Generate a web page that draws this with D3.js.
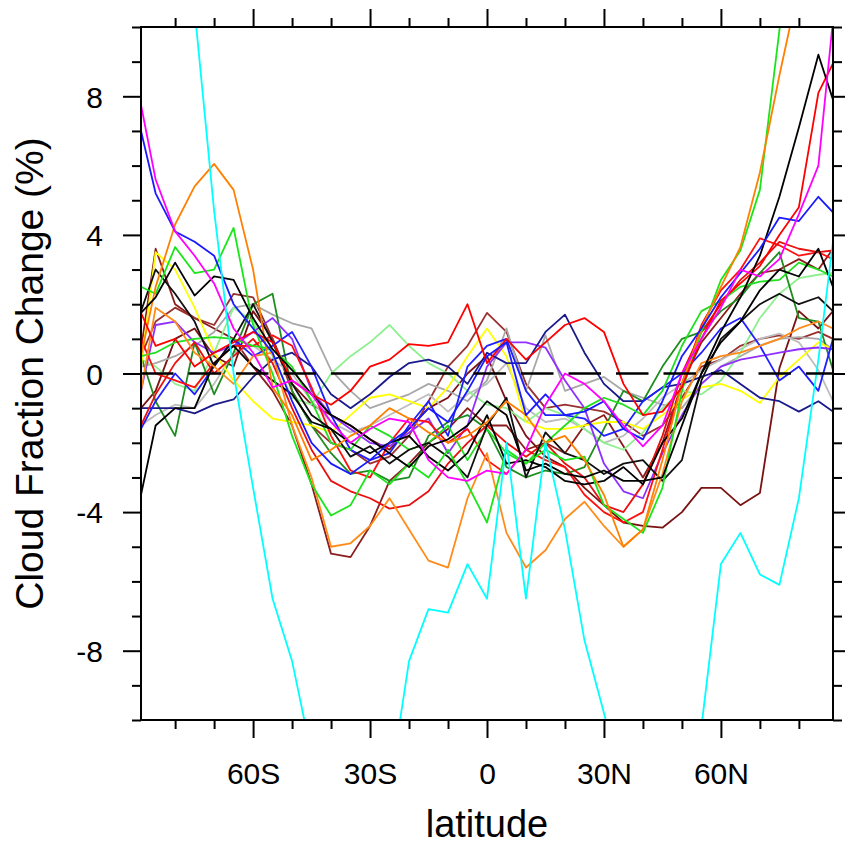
<!DOCTYPE html>
<html>
<head>
<meta charset="utf-8">
<script src="https://cdn.jsdelivr.net/npm/d3@7"></script>
<style>
  body { margin: 0; background: #fff; }
  text { font-family: "Liberation Sans", Arial, Helvetica, sans-serif; }
</style>
</head>
<body>
<svg id="chart" width="845" height="847"></svg>
<script>
// latitude grid (deg), SH negative
const lats = [-88.75, -85, -80, -75, -70, -65, -60, -55, -50, -45, -40, -35, -30,
  -25, -20, -15, -10, -5, 0, 5, 10, 15, 20, 25,
  30, 35, 40, 45, 50, 55, 60, 65, 70, 75, 80, 85, 88.75];

// cloud fraction change (%) per model
const brown1 = [0.7, 3.6, 2.0, 1.6, 1.3, 1.0, 0.2,  -0.5, -1.5, -3.2, -5.2, -5.3, -4.4,
  -3.1, -2.6, -2.0, -1.6, -1.0, -1.5, -1.5, -2.2, -2.0, -2.3, -1.5,
  -1.2, -2.1, -3.0, -2.0, -0.3, 0.9,  1.6, 2.3, 2.9, 3.0, 3.3, 3.0, 3.6];
const brown2 = [-1.0, -0.5, 1.0, 1.3, 0.5, 0.2, 1.8,  1.0, -0.3, -0.9, -1.2, -1.5, -1.9,
  -2.2, -1.6, -1.0, -0.7, 0.0, 0.5, -0.8, -1.8, -2.4, -2.7, -3.3,
  -3.8, -4.3, -4.4, -4.45, -4.0, -3.3,  -3.3, -3.8, -3.45, 0.15, 1.8, 1.3, 1.8];
const brown3 = [0.5, 1.5, 1.9, 1.6, 1.4, 2.3, 2.2,  1.0, -0.5, -1.5, -2.0, -2.2, -2.6,
  -2.4, -1.8, -0.8, 0.2, 0.8, 1.75, 1.2, -0.3, -1.0, -0.9, -1.0,
  -1.1, -1.4, -1.8, -1.5, -0.7, 0.2,  0.4, 0.8, 1.0, 1.1, 1.0, 1.2, 1.0];
const gray1 = [0.2, 0.3, 0.5, 0.8, 1.2, 1.9, 2.0,  1.7, 1.45, 1.3, 0.1, -0.5, -1.0,
  -0.8, -0.6, -0.3, -0.5, -0.8, -0.2, 1.3, -0.5, 1.1, -0.5, -0.3,
  -0.1, -0.5, -0.7, -0.9, -1.0, -0.3,  0.2, 0.5, 0.8, 1.0, 1.05, 1.0, 0.7];
const gray2 = [-1.5, -1.2, -0.9, -1.0, -0.3, 0.6, 0.8,  0.4, 0.0, -0.8, -1.4, -1.7, -1.5,
  -1.2, -0.9, -0.6, -1.1, -0.6, -0.3, 0.3, -1.0, -1.4, -1.3, -1.6,
  -2.0, -1.8, -1.3, -0.7, -0.3, 0.1,  0.4, 0.7, 1.0, 1.15, 0.9, 0.1, -0.8];
const lightgreen = [0.4, 0.2, -0.3, -0.5, 0.6, 1.9, 1.5,  0.5, -0.7, -0.9, 0.0, 0.5, 0.9,
  1.4, 0.8, 0.3, 0.0, -0.5, -0.9, -1.0, -1.4, -1.0, -1.2, -1.6,
  -2.0, -2.2, -1.7, -1.0, -0.5, -0.6,  -0.2, 0.6, 1.6, 2.3, 2.75, 2.85, 2.9];
const darkgreen = [0.5, -0.8, -1.8, 0.9, -0.6, 0.6, 2.0,  2.3, -0.5, -1.5, -2.3, -2.9, -2.8,
  -3.1, -3.0, -1.8, -1.4, -1.2, -1.6, -2.7, -3.0, -2.8, -2.9, -2.7,
  -1.6, -0.5, -0.8, 0.2, 1.0, 1.2,  1.8, 2.2, 2.9, 3.5, 1.6, 1.5, 0.1];
const yellow = [0.2, 3.5, 3.0, 1.9, 0.6, -0.2, -0.8,  -1.3, -1.4, -1.5, -1.7, -1.2, -0.7,
  -0.6, -0.8, -1.0, -0.4, 0.5, 1.3, 0.5, -1.4, -1.6, -1.6, -1.5,
  -1.4, -1.4, -1.6, -1.2, -0.75, -0.4,  -0.3, -0.5, -0.85, -0.1, 0.4, 0.9, 0.7];
const purple = [-0.5, 1.4, 1.5, 0.9, 0.6, 0.8, 1.2,  1.6, 1.0, -0.5, -1.2, -1.6, -2.0,
  -2.1, -1.7, -1.3, -2.3, -1.5, 0.2, 0.9, 0.9, 0.75, -0.2, -1.0,
  -2.6, -3.4, -3.6, -2.3, -1.2, -0.3,  0.2, 0.4, 0.5, 0.6, 0.7, 0.75, 0.7];
const navy = [-1.0, -1.0, -1.0, -1.15, -0.9, -0.75, -0.1,  0.4, 0.6, 0.2, -0.6, -1.0, -0.6,
  -0.1, 0.3, 0.4, 0.2, -0.3, 0.6, 0.3, 0.3, 1.2, 1.7, 0.6,
  -0.3, -0.8, -0.8, -0.4, -0.3, -0.1,  0.1, -0.3, -0.7, -0.8, -1.1, -0.8, -1.1];
const blue2 = [-1.6, -0.8, 0.0, -0.6, 0.2, 1.0, 0.5,  0.8, 1.2, 0.2, -1.2, -2.2, -2.5,
  -2.3, -1.5, -0.8, -1.8, 0.2, 0.8, 1.0, -0.5, -1.2, -1.2, -1.3,
  -1.8, -1.6, -0.8, -0.4, 0.0, 0.6,  1.3, 1.6, 0.8, -0.2, 0.2, -0.5, 1.0];
const red3 = [1.0, 0.0, -0.2, -0.4, 0.3, 0.8, 0.8,  1.1, 0.8, -0.4, -1.8, -2.8, -3.0,
  -2.0, -1.3, -1.4, -2.0, -1.6, -2.5, -2.9, -2.2, -2.5, -2.7, -3.5,
  -4.0, -4.3, -4.0, -2.2, -0.3, 1.4,  2.4, 3.0, 3.9, 3.7, 3.4, 3.5, 3.3];
const red2 = [-1.5, -0.6, 0.3, 0.9, 0.0, 0.5, 1.0,  0.3, -1.0, -2.2, -3.1, -3.4, -3.6,
  -3.9, -3.8, -3.4, -2.6, -2.0, -1.5, -2.0, -2.4, -2.0, -2.6, -3.0,
  -3.8, -4.0, -3.2, -1.8, 0.0, 1.2,  2.0, 2.7, 3.2, 3.8, 3.6, 3.5, 3.55];
const green2 = [0.5, 0.6, 0.9, 1.0, 1.05, 1.0, 0.8,  0.7, 0.2, -0.8, -2.0, -2.2, -1.5,
  -1.8, -2.2, -2.0, -1.5, -2.5, -1.6, -2.3, -2.6, -2.0, -1.5, -1.0,
  -0.7, -0.9, -1.2, -0.5, 0.8, 1.8,  2.1, 2.5, 2.65, 2.7, 3.2, 3.0, 2.8];
const black3 = [1.8, 3.0, 2.3, 1.5, 0.2, 1.0, 2.0,  0.9, -0.3, -1.2, -1.6, -2.4, -2.1,
  -2.6, -2.2, -2.0, -2.4, -3.0, -1.5, -0.7, -3.0, -1.7, -2.3, -2.5,
  -2.9, -2.6, -2.5, -3.1, -2.5, -0.2,  1.0, 1.5, 2.0, 2.3, 2.0, 2.2, 1.8];
const black2 = [-3.5, -1.5, -1.0, -1.0, 0.3, 0.8, 0.2,  -0.2, -0.6, -1.4, -1.6, -2.0, -2.3,
  -2.0, -1.8, -2.4, -2.8, -2.3, -1.2, -2.6, -2.5, -2.7, -3.1, -3.2,
  -3.1, -2.7, -3.2, -2.0, -1.3, 0.0,  0.9, 1.5, 2.4, 3.0, 2.8, 3.6, 2.5];
const orange2 = [-0.5, 1.9, 1.5, 0.6, 0.2, -0.3, 0.5,  0.6, -1.5, -3.0, -5.0, -4.9, -4.4,
  -3.6, -4.5, -5.4, -5.6, -3.6, -2.3, -4.6, -5.6, -5.1, -4.2, -3.7,
  -4.4, -5.0, -4.5, -2.9, -0.8, 0.3,  0.5, 0.6, 0.8, 1.0, 1.3, 1.5, 1.3];
const green1 = [2.5, 2.3, 3.65, 2.9, 3.0, 4.2, 1.4,  0.0, -1.8, -3.2, -4.1, -3.8, -2.8,
  -3.2, -2.6, -3.0, -2.2, -3.2, -4.3, -2.2, -2.6, -2.2, -2.5, -2.4,
  -3.8, -4.2, -4.6, -3.3, -0.5, 1.2,  2.7, 3.55, 5.3, 9.9, 15, 17, 18];
const orange1 = [0.5, 2.5, 4.3, 5.4, 6.05, 5.3, 3.0,  -0.4, -1.2, -2.5, -2.2, -1.8, -1.5,
  -1.0, -1.3, -1.7, -2.0, -1.8, -1.4, -0.8, -1.2, -2.0, -1.8, -2.5,
  -3.5, -5.0, -4.5, -2.5, -0.3, 1.3,  2.5, 3.65, 5.8, 8.6, 11.2, 13, 14];
const red1 = [1.75, 0.8, 1.0, 0.2, 0.6, 0.9, 1.2,  0.9, -0.2, -0.6, -0.9, -0.5, 0.2,
  0.4, 0.85, 0.8, 0.9, 2.0, 0.3, 1.0, 0.4, 0.9, 1.4, 1.6,
  1.2, -0.3, -1.2, -1.1, -0.4, 1.0,  2.1, 2.6, 3.1, 4.0, 4.8, 8.1, 8.95];
const black1 = [1.75, 2.2, 3.2, 2.25, 2.8, 2.7, 1.6,  0.7, 0.1, -0.6, -1.2, -1.5, -1.9,
  -2.3, -2.7, -2.1, -1.9, -1.5, -0.8, -1.2, -2.8, -2.6, -2.9, -3.0,
  -2.8, -3.1, -3.1, -3.0, -1.5, 0.0,  1.2, 2.2, 3.4, 5.1, 7.1, 9.2, 7.9];
const blue1 = [7.0, 5.2, 4.1, 3.8, 3.4, 2.0, 1.3,  0.6, -0.8, -2.0, -2.6, -2.9, -2.5,
  -2.0, -1.6, -1.0, -1.4, -0.5, 0.5, 0.9, -1.2, -0.6, -1.2, -1.1,
  -0.8, -1.6, -1.9, -0.8, 0.5, 1.3,  2.2, 2.9, 3.6, 4.5, 4.4, 5.1, 4.65];
const magenta = [7.75, 5.6, 4.1, 3.4, 2.6, 1.3, 0.6,  -0.4, -0.2, -0.6, -1.4, -2.0, -1.6,
  -1.3, -1.4, -2.5, -3.0, -3.1, -2.8, -2.9, -2.2, -0.9, 0.0, -0.3,
  -0.8, -1.5, -2.1, -1.5, 0.0, 1.0,  1.9, 3.0, 2.8, 3.3, 4.6, 6.0, 10.2];
const cyan = [25, 22, 16, 10.5, 4.7, 0.0, -3.3,  -6.5, -8.3, -11, -13, -14, -14,
  -12, -8.3, -6.8, -6.9, -5.5, -6.5, -2.0, -6.5, -2.0, -4.5, -7.7,
  -9.8, -12, -13, -13, -12, -10.2,  -5.5, -4.6, -5.8, -6.1, -3.6, 0.4, 3.8];

const models = [
  { name: "brown1", values: brown1 },
  { name: "brown2", values: brown2 },
  { name: "brown3", values: brown3 },
  { name: "gray1", values: gray1 },
  { name: "gray2", values: gray2 },
  { name: "lightgreen", values: lightgreen },
  { name: "darkgreen", values: darkgreen },
  { name: "yellow", values: yellow },
  { name: "purple", values: purple },
  { name: "navy", values: navy },
  { name: "blue2", values: blue2 },
  { name: "red3", values: red3 },
  { name: "red2", values: red2 },
  { name: "green2", values: green2 },
  { name: "black3", values: black3 },
  { name: "black2", values: black2 },
  { name: "orange2", values: orange2 },
  { name: "green1", values: green1 },
  { name: "orange1", values: orange1 },
  { name: "red1", values: red1 },
  { name: "black1", values: black1 },
  { name: "blue1", values: blue1 },
  { name: "magenta", values: magenta },
  { name: "cyan", values: cyan }
];

const lineColor = {
  brown1: "#8b1c1c", brown2: "#7a1212", brown3: "#9a3030",
  gray1: "#a8a8a8", gray2: "#bdbdbd",
  lightgreen: "#8ff08f", darkgreen: "#1e8c1e",
  yellow: "#ffff00", purple: "#9030ff", navy: "#1a1a8c",
  blue2: "#2020ff", red3: "#ff1010", red2: "#e81010", green2: "#20e020",
  black3: "#101010", black2: "#000000", orange2: "#ff8c1a", green1: "#19e619",
  orange1: "#ff8000", red1: "#ff0000", black1: "#000000", blue1: "#1a1aff",
  magenta: "#ff00ff", cyan: "#00ffff"
};

const xMajor = [-60, -30, 0, 30, 60];
const xMinor = [-80, -70, -50, -40, -20, -10, 10, 20, 40, 50, 70, 80];
const yMajor = [-8, -4, 0, 4, 8];
const yMinor = [-10, -9, -7, -6, -5, -3, -2, -1, 1, 2, 3, 5, 6, 7, 9, 10];

const svg = d3.select("#chart");
const margin = { left: 141, right: 12, top: 27, bottom: 127 };
const W = 845, H = 847;
const x0 = margin.left, x1 = W - margin.right;
const y0 = margin.top, y1 = H - margin.bottom;

const x = d3.scaleLinear().domain([-88.75, 88.75]).range([x0, x1]);
const y = d3.scaleLinear().domain([-10, 10]).range([y1, y0]);

svg.append("defs").append("clipPath").attr("id", "plotclip")
  .append("rect").attr("x", x0).attr("y", y0).attr("width", x1 - x0).attr("height", y1 - y0);

const line = d3.line()
  .x((d, i) => x(lats[i]))
  .y(d => y(d));

const plot = svg.append("g").attr("clip-path", "url(#plotclip)");

plot.selectAll("path.model")
  .data(models)
  .join("path")
  .attr("class", "model")
  .attr("fill", "none")
  .attr("stroke", d => lineColor[d.name])
  .attr("stroke-width", 1.8)
  .attr("stroke-linejoin", "round")
  .attr("d", d => line(d.values));

// dashed zero reference
plot.append("line")
  .attr("x1", x0).attr("x2", x1)
  .attr("y1", y(0)).attr("y2", y(0))
  .attr("stroke", "#000")
  .attr("stroke-width", 2.6)
  .attr("stroke-dasharray", "32.5,15");

// axes
const latFmt = d => d < 0 ? (-d) + "S" : d > 0 ? d + "N" : "0";

function styleAxis(g) {
  g.select(".domain").remove();
  g.selectAll(".tick line").attr("stroke", "#000").attr("stroke-width", 2);
  g.selectAll(".tick text")
    .attr("fill", "#000")
    .style("font-family", "'Liberation Sans', Arial, Helvetica, sans-serif")
    .style("font-size", "30px");
}

svg.append("g").attr("transform", `translate(0,${y1})`)
  .call(d3.axisBottom(x).tickValues(xMajor).tickSize(18).tickPadding(25).tickFormat(latFmt))
  .call(styleAxis);
svg.append("g").attr("transform", `translate(0,${y1})`)
  .call(d3.axisBottom(x).tickValues(xMinor).tickSize(9).tickFormat(""))
  .call(styleAxis);
svg.append("g").attr("transform", `translate(0,${y0})`)
  .call(d3.axisTop(x).tickValues(xMajor).tickSize(18).tickFormat(""))
  .call(styleAxis);
svg.append("g").attr("transform", `translate(0,${y0})`)
  .call(d3.axisTop(x).tickValues(xMinor).tickSize(9).tickFormat(""))
  .call(styleAxis);

svg.append("g").attr("transform", `translate(${x0},0)`)
  .call(d3.axisLeft(y).tickValues(yMajor).tickSize(18).tickPadding(20).tickFormat(d => String(d)))
  .call(styleAxis)
  .call(g => g.selectAll(".tick text").attr("dy", "0.36em"));
svg.append("g").attr("transform", `translate(${x0},0)`)
  .call(d3.axisLeft(y).tickValues(yMinor).tickSize(9).tickFormat(""))
  .call(styleAxis);
svg.append("g").attr("transform", `translate(${x1},0)`)
  .call(d3.axisRight(y).tickValues(yMajor).tickSize(18).tickFormat(""))
  .call(styleAxis);
svg.append("g").attr("transform", `translate(${x1},0)`)
  .call(d3.axisRight(y).tickValues(yMinor).tickSize(9).tickFormat(""))
  .call(styleAxis);

// frame
svg.append("rect")
  .attr("x", x0).attr("y", y0)
  .attr("width", x1 - x0).attr("height", y1 - y0)
  .attr("fill", "none").attr("stroke", "#000").attr("stroke-width", 2);

// titles
svg.append("text")
  .attr("x", (x0 + x1) / 2).attr("y", 837)
  .attr("text-anchor", "middle")
  .style("font-size", "38px")
  .text("latitude");

svg.append("text")
  .attr("transform", `translate(43,${(y0 + y1) / 2}) rotate(-90)`)
  .attr("text-anchor", "middle")
  .style("font-size", "39px")
  .text("Cloud Fraction Change (%)");
</script>
</body>
</html>
